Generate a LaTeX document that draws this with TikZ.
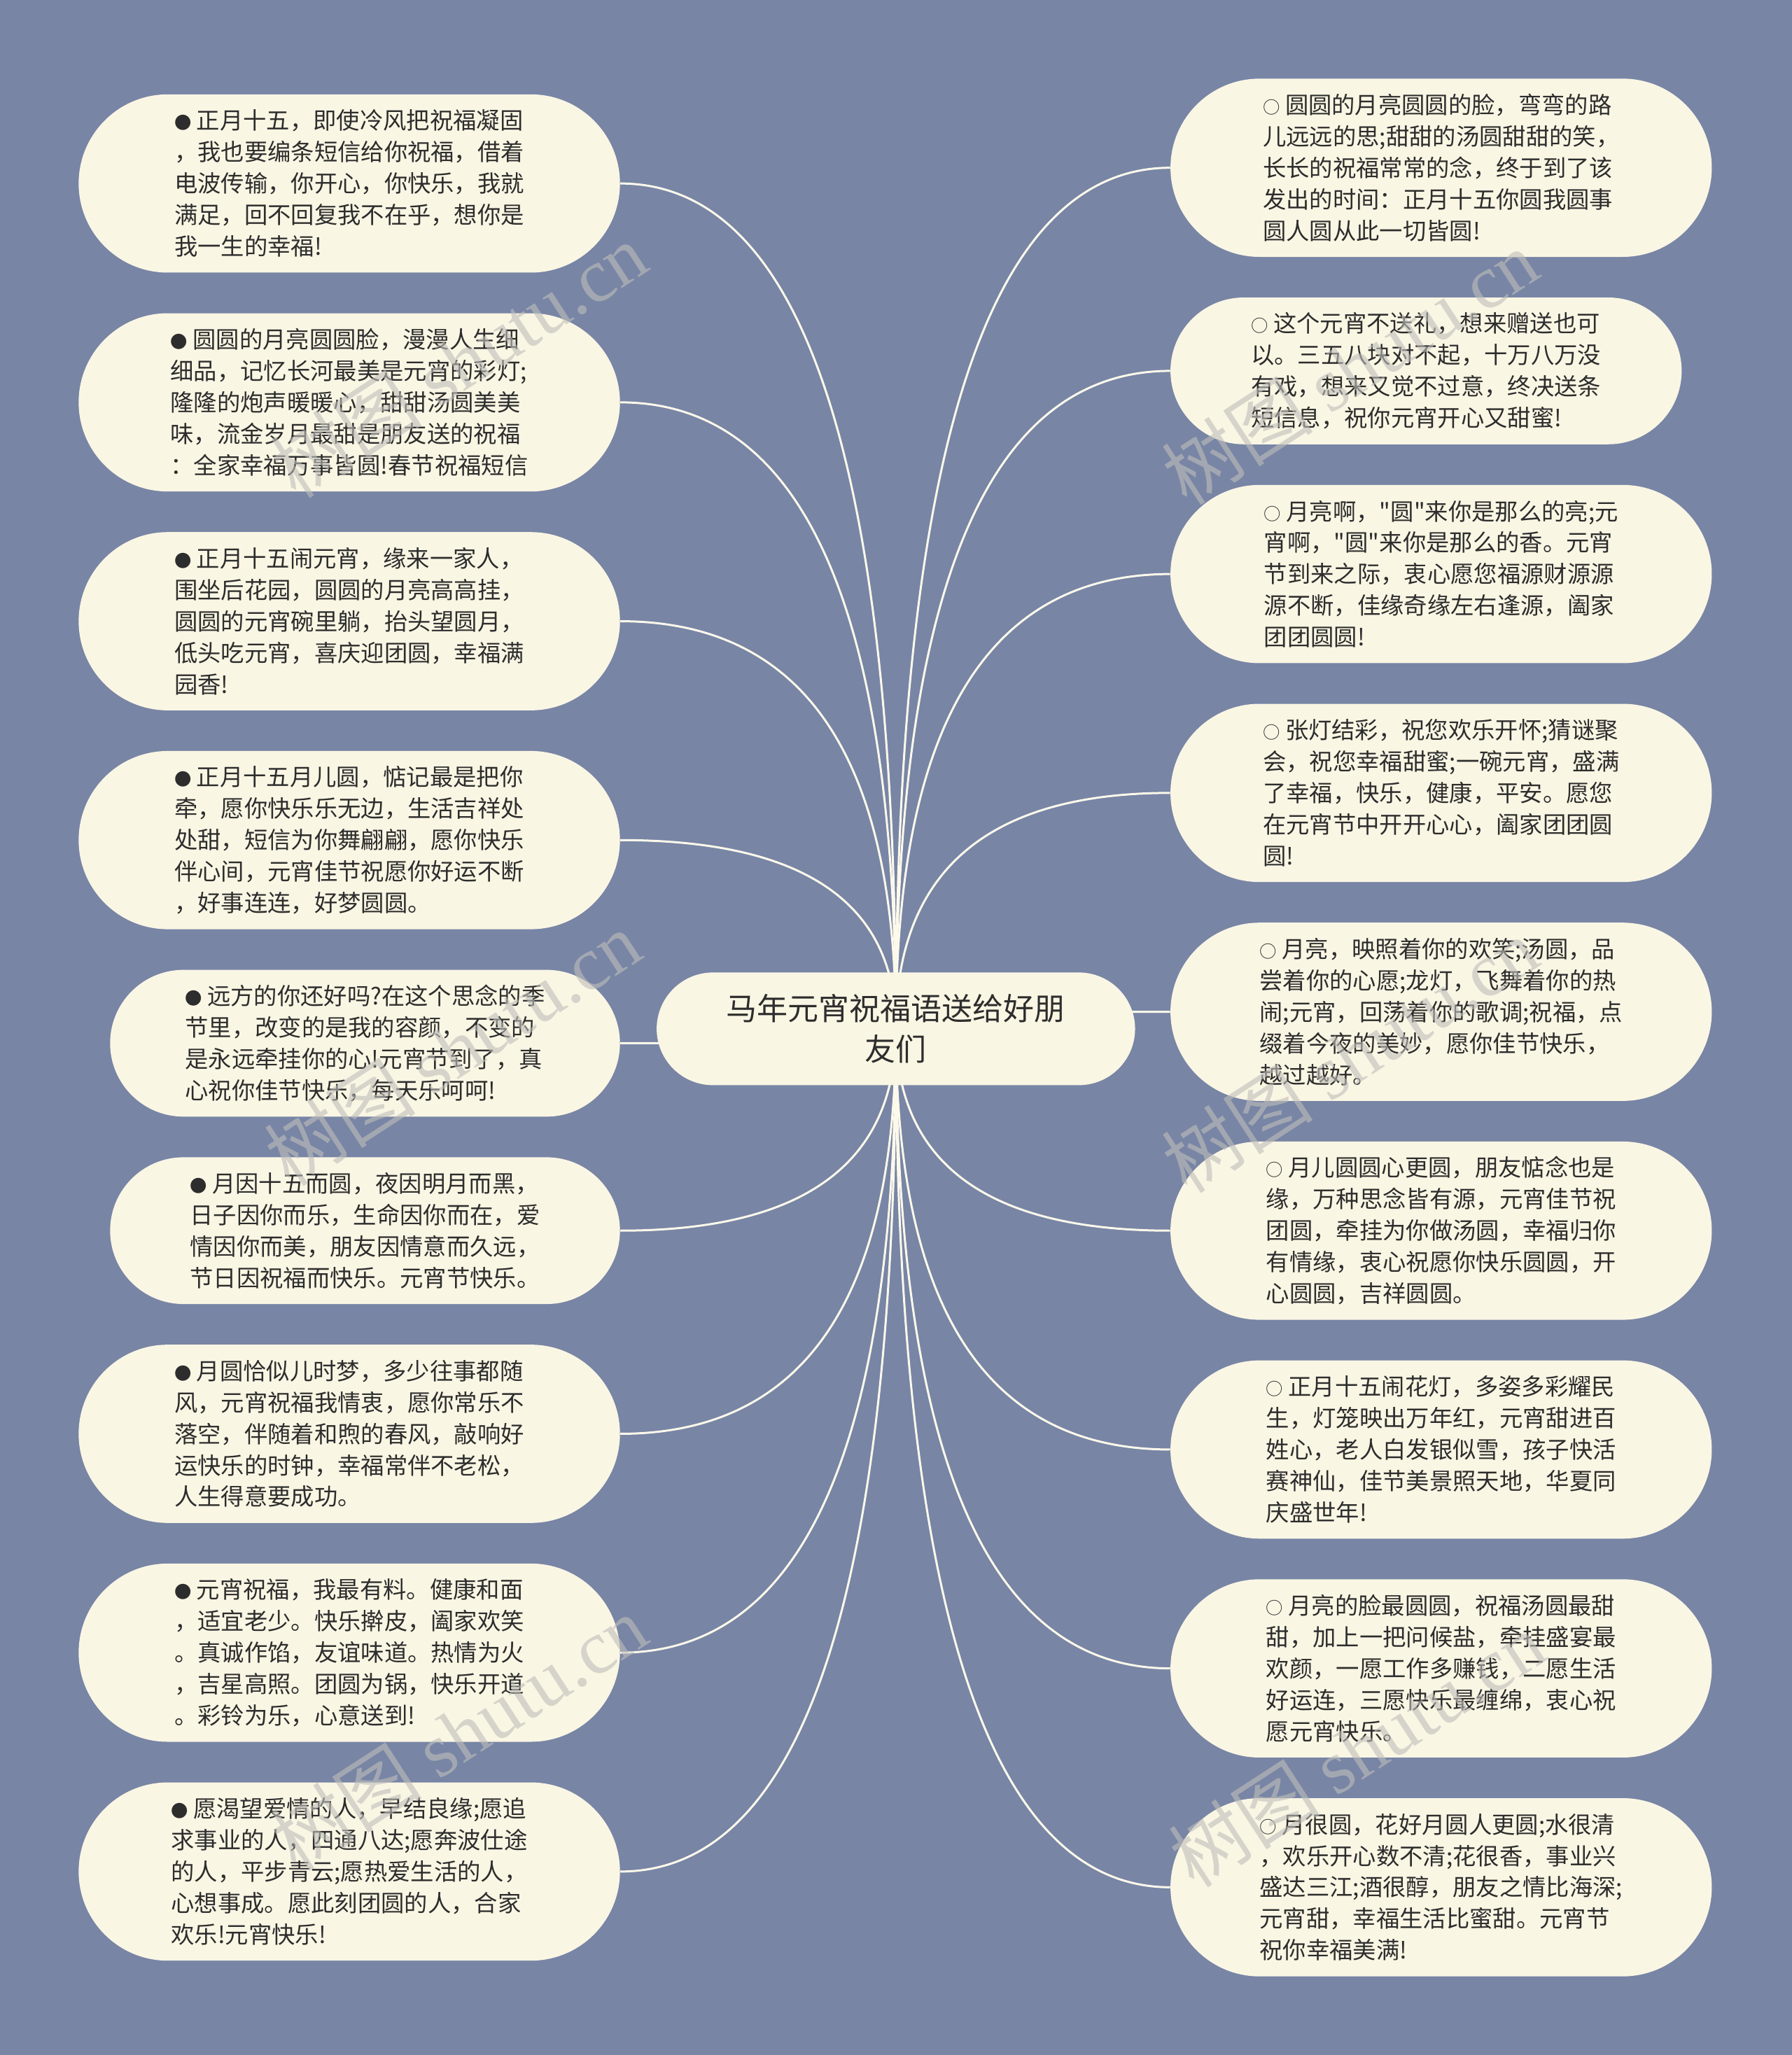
\documentclass[tikz,border=0pt]{standalone}
\usepackage{fontspec}
\setmainfont{Noto Sans CJK SC}[Ligatures=TeXOff]
\newfontfamily\wmserif{Liberation Serif}
\usetikzlibrary{shapes.misc,calc}
\pgfdeclarelayer{bg}\pgfdeclarelayer{edges}\pgfdeclarelayer{fg}
\pgfsetlayers{bg,edges,main,fg}
\definecolor{bgblue}{RGB}{120,133,165}
\definecolor{cream}{RGB}{250,246,228}
\definecolor{ink}{RGB}{45,45,45}
\definecolor{linec}{RGB}{252,249,235}
\definecolor{wmc}{RGB}{190,190,186}
\newcommand{\lbul}{{\fontsize{13}{13}\selectfont ●}\hspace{4pt}}
\newcommand{\rbul}{{\fontsize{13}{13}\selectfont ○}\hspace{4pt}}
\begin{document}
\begin{tikzpicture}[x=1pt,y=-1pt,
  leaf/.style={rounded rectangle, fill=cream, text=ink, inner sep=0pt,
    minimum height=136pt, minimum width=413pt, align=left,
    font=\fontsize{17.8}{24}\selectfont},
  shortleaf/.style={minimum height=112pt},
  narrowleaf/.style={minimum width=389pt},
  root/.style={rounded rectangle, fill=cream, text=ink, inner sep=0pt,
    minimum width=365pt, minimum height=86pt, align=center,
    font=\fontsize{23.5}{31}\selectfont},
  link/.style={draw=linec, line width=1.6pt},
  wmark/.style={text=wmc, text opacity=0.6, rotate=33, inner sep=0pt,
    font=\fontsize{58}{58}\selectfont}
]
\begin{pgfonlayer}{bg}
\fill[bgblue] (0,0) rectangle (1367,1568);
\end{pgfonlayer}
\useasboundingbox (0,0) rectangle (1367,1568);

\node[root] (c) at (683.5,785) {马年元宵祝福语送给好朋\\友们};

% left column
\node[leaf] (L1) at (266.5,140) {\lbul 正月十五，即使冷风把祝福凝固\\，我也要编条短信给你祝福，借着\\电波传输，你开心，你快乐，我就\\满足，回不回复我不在乎，想你是\\我一生的幸福!};
\node[leaf] (L2) at (266.5,307) {\lbul 圆圆的月亮圆圆脸，漫漫人生细\\细品，记忆长河最美是元宵的彩灯;\\隆隆的炮声暖暖心，甜甜汤圆美美\\味，流金岁月最甜是朋友送的祝福\\：全家幸福万事皆圆!春节祝福短信};
\node[leaf] (L3) at (266.5,474) {\lbul 正月十五闹元宵，缘来一家人，\\围坐后花园，圆圆的月亮高高挂，\\圆圆的元宵碗里躺，抬头望圆月，\\低头吃元宵，喜庆迎团圆，幸福满\\园香!};
\node[leaf] (L4) at (266.5,641) {\lbul 正月十五月儿圆，惦记最是把你\\牵，愿你快乐乐无边，生活吉祥处\\处甜，短信为你舞翩翩，愿你快乐\\伴心间，元宵佳节祝愿你好运不断\\，好事连连，好梦圆圆。};
\node[leaf,shortleaf,narrowleaf] (L5) at (278.5,796) {\lbul 远方的你还好吗?在这个思念的季\\节里，改变的是我的容颜，不变的\\是永远牵挂你的心!元宵节到了，真\\心祝你佳节快乐，每天乐呵呵!};
\node[leaf,shortleaf,narrowleaf] (L6) at (278.5,939) {\lbul 月因十五而圆，夜因明月而黑，\\日子因你而乐，生命因你而在，爱\\情因你而美，朋友因情意而久远，\\节日因祝福而快乐。元宵节快乐。};
\node[leaf] (L7) at (266.5,1094) {\lbul 月圆恰似儿时梦，多少往事都随\\风，元宵祝福我情衷，愿你常乐不\\落空，伴随着和煦的春风，敲响好\\运快乐的时钟，幸福常伴不老松，\\人生得意要成功。};
\node[leaf] (L8) at (266.5,1261) {\lbul 元宵祝福，我最有料。健康和面\\，适宜老少。快乐擀皮，阖家欢笑\\。真诚作馅，友谊味道。热情为火\\，吉星高照。团圆为锅，快乐开道\\。彩铃为乐，心意送到!};
\node[leaf] (L9) at (266.5,1428) {\lbul 愿渴望爱情的人，早结良缘;愿追\\求事业的人，四通八达;愿奔波仕途\\的人，平步青云;愿热爱生活的人，\\心想事成。愿此刻团圆的人，合家\\欢乐!元宵快乐!};

% right column
\node[leaf] (R1) at (1099.5,128) {\rbul 圆圆的月亮圆圆的脸，弯弯的路\\儿远远的思;甜甜的汤圆甜甜的笑，\\长长的祝福常常的念，终于到了该\\发出的时间：正月十五你圆我圆事\\圆人圆从此一切皆圆!};
\node[leaf,shortleaf,minimum width=390pt] (R2) at (1088,283) {\rbul 这个元宵不送礼，想来赠送也可\\以。三五八块对不起，十万八万没\\有戏，想来又觉不过意，终决送条\\短信息，祝你元宵开心又甜蜜!};
\node[leaf] (R3) at (1099.5,438) {\rbul 月亮啊，"圆"来你是那么的亮;元\\宵啊，"圆"来你是那么的香。元宵\\节到来之际，衷心愿您福源财源源\\源不断，佳缘奇缘左右逢源，阖家\\团团圆圆!};
\node[leaf] (R4) at (1099.5,605) {\rbul 张灯结彩，祝您欢乐开怀;猜谜聚\\会，祝您幸福甜蜜;一碗元宵，盛满\\了幸福，快乐，健康，平安。愿您\\在元宵节中开开心心，阖家团团圆\\圆!};
\node[leaf] (R5) at (1099.5,772) {\rbul 月亮，映照着你的欢笑;汤圆，品\\尝着你的心愿;龙灯，飞舞着你的热\\闹;元宵，回荡着你的歌调;祝福，点\\缀着今夜的美妙，愿你佳节快乐，\\越过越好。};
\node[leaf] (R6) at (1099.5,939) {\rbul 月儿圆圆心更圆，朋友惦念也是\\缘，万种思念皆有源，元宵佳节祝\\团圆，牵挂为你做汤圆，幸福归你\\有情缘，衷心祝愿你快乐圆圆，开\\心圆圆，吉祥圆圆。};
\node[leaf] (R7) at (1099.5,1106) {\rbul 正月十五闹花灯，多姿多彩耀民\\生，灯笼映出万年红，元宵甜进百\\姓心，老人白发银似雪，孩子快活\\赛神仙，佳节美景照天地，华夏同\\庆盛世年!};
\node[leaf] (R8) at (1099.5,1273) {\rbul 月亮的脸最圆圆，祝福汤圆最甜\\甜，加上一把问候盐，牵挂盛宴最\\欢颜，一愿工作多赚钱，二愿生活\\好运连，三愿快乐最缠绵，衷心祝\\愿元宵快乐。};
\node[leaf] (R9) at (1099.5,1440) {\rbul 月很圆，花好月圆人更圆;水很清\\，欢乐开心数不清;花很香，事业兴\\盛达三江;酒很醇，朋友之情比海深;\\元宵甜，幸福生活比蜜甜。元宵节\\祝你幸福美满!};

\begin{pgfonlayer}{edges}
\foreach \n/\a in {L1/east,L2/east,L3/east,L4/east,L5/east,L6/east,L7/east,L8/east,L9/east,
                   R1/west,R2/west,R3/west,R4/west,R5/west,R6/west,R7/west,R8/west,R9/west}
  \draw[link] (c.center) .. controls ($(c.center)!0.667!(c.center|-\n.\a)$)
      and ($(\n.\a)!0.667!(c.center|-\n.\a)$) .. (\n.\a);
\end{pgfonlayer}

\begin{pgfonlayer}{fg}
\foreach \p/\q [count=\i] in {350/275,1030/280,345/800,1030/805,350/1322,1035/1335}
  \node[wmark] (wm\i) at (\p,\q) {树图 {\wmserif shutu.cn}};
\end{pgfonlayer}
\end{tikzpicture}
\end{document}
